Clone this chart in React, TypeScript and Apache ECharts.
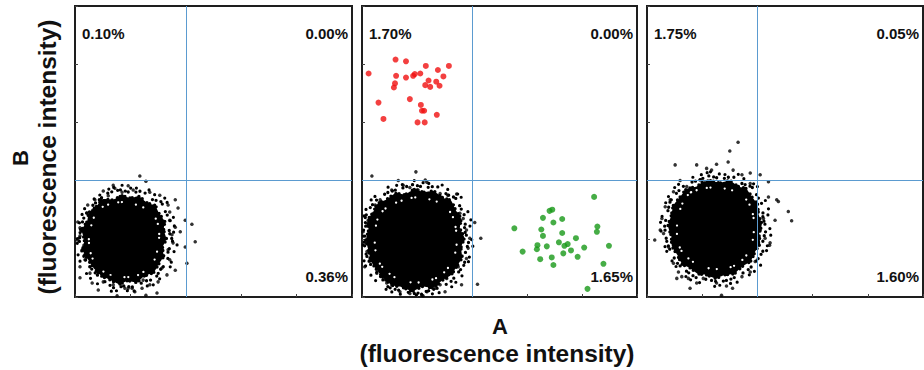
import React, { useEffect, useRef } from "react";
import * as echarts from "echarts";

// ---------- axis / gate values ----------
const AXIS_MIN = 0;
const AXIS_MAX = 5;
const AXIS_STEP = 1;
const GATE_X = 2;
const GATE_Y = 2;

// ---------- quadrant percentages (upper-left, upper-right, lower-right) ----------
const quadrant1 = ["0.10%", "0.00%", "0.36%"];
const quadrant2 = ["1.70%", "0.00%", "1.65%"];
const quadrant3 = ["1.75%", "0.05%", "1.60%"];

// ---------- panel 1: density contours (specks inside, dense core, mid rim, sparse halo) + edge events ----------
const inner1: number[][] = [
  [0.50, 1.55], [0.82, 1.63], [1.12, 1.58], [1.36, 1.47], [1.48, 1.30], [1.52, 1.08],
  [1.49, 0.82], [1.43, 0.63], [1.30, 0.48], [1.12, 0.37], [0.90, 0.34], [0.63, 0.38],
  [0.43, 0.50], [0.30, 0.70], [0.25, 0.98], [0.30, 1.25], [0.38, 1.44],
];
const core1: number[][] = [
  [0.85, 1.74], [1.00, 1.70], [1.15, 1.73], [1.30, 1.62], [1.45, 1.57], [1.52, 1.43],
  [1.62, 1.30], [1.60, 1.15], [1.65, 1.00], [1.58, 0.85], [1.60, 0.70], [1.50, 0.55],
  [1.42, 0.42], [1.25, 0.36], [1.12, 0.25], [0.95, 0.28], [0.80, 0.22], [0.62, 0.30],
  [0.48, 0.36], [0.35, 0.48], [0.25, 0.62], [0.14, 0.80], [0.17, 0.98], [0.12, 1.15],
  [0.22, 1.30], [0.25, 1.45], [0.38, 1.55], [0.50, 1.68], [0.68, 1.67],
];
const mid1: number[][] = [
  [0.82, 1.84], [1.02, 1.79], [1.22, 1.82], [1.38, 1.68], [1.55, 1.64], [1.63, 1.47],
  [1.72, 1.30], [1.70, 1.12], [1.76, 0.96], [1.68, 0.78], [1.67, 0.60], [1.54, 0.47],
  [1.44, 0.31], [1.25, 0.27], [1.08, 0.17], [0.88, 0.19], [0.72, 0.15], [0.53, 0.27],
  [0.40, 0.38], [0.24, 0.55], [0.15, 0.72], [0.08, 0.93], [0.10, 1.17], [0.16, 1.36],
  [0.26, 1.52], [0.40, 1.64], [0.58, 1.78],
];
const halo1: number[][] = [
  [0.85, 1.92], [1.05, 1.86], [1.25, 1.90], [1.45, 1.75], [1.62, 1.70], [1.72, 1.50],
  [1.80, 1.30], [1.78, 1.10], [1.85, 0.92], [1.76, 0.72], [1.72, 0.52], [1.58, 0.38],
  [1.45, 0.22], [1.25, 0.18], [1.05, 0.10], [0.85, 0.12], [0.65, 0.10], [0.45, 0.20],
  [0.30, 0.30], [0.15, 0.48], [0.06, 0.70], [0.04, 0.95], [0.06, 1.20], [0.12, 1.40],
  [0.22, 1.60], [0.40, 1.72], [0.60, 1.85],
];
const edge1: number[][] = [
  [1.17, 2.08], [1.28, 1.99], [0.69, 1.92], [0.72, 1.87], [0.96, 1.91], [0.51, 1.82],
  [1.05, 1.84], [1.35, 1.80], [1.53, 1.75], [1.81, 1.67], [1.86, 1.53], [0.85, 1.80],
  [0.60, 1.74], [0.36, 1.67], [0.23, 1.58], [1.68, 1.58], [1.71, 1.46], [0.05, 1.29],
  [0.09, 1.19], [0.04, 0.98], [0.13, 0.81], [0.18, 0.64], [0.09, 0.52], [0.27, 0.41],
  [0.32, 1.49], [0.22, 1.44], [0.09, 1.05], [0.16, 0.89], [1.71, 1.32], [1.81, 1.20],
  [1.99, 1.32], [2.11, 1.25], [2.17, 0.95], [1.90, 1.12], [1.77, 0.93], [1.99, 0.86],
  [2.02, 0.58], [1.71, 0.64], [1.81, 0.46], [1.68, 0.81], [1.75, 1.07], [0.31, 0.24],
  [0.51, 0.26], [0.69, 0.21], [0.90, 0.15], [0.96, 0.15], [1.03, 0.15], [1.21, 0.15],
  [0.76, 0.02], [1.28, 0.03], [1.48, 0.07], [1.50, 0.26], [1.66, 0.38], [0.63, 0.34],
  [1.23, 0.29], [0.09, 0.33], [0.42, 0.12], [1.08, 0.09], [1.35, 0.21], [1.57, 0.50],
];

// ---------- panel 2 ----------
const inner2: number[][] = [
  [0.62, 1.62], [0.96, 1.71], [1.30, 1.66], [1.52, 1.55], [1.65, 1.38], [1.71, 1.15],
  [1.72, 0.90], [1.66, 0.65], [1.53, 0.46], [1.36, 0.33], [1.04, 0.25], [0.72, 0.28],
  [0.50, 0.40], [0.32, 0.58], [0.24, 0.83], [0.24, 1.13], [0.30, 1.38], [0.44, 1.53],
];
const core2: number[][] = [
  [0.95, 1.85], [1.12, 1.80], [1.30, 1.82], [1.48, 1.70], [1.62, 1.66], [1.70, 1.50],
  [1.80, 1.35], [1.78, 1.18], [1.86, 1.02], [1.80, 0.85], [1.82, 0.68], [1.72, 0.52],
  [1.62, 0.38], [1.45, 0.28], [1.30, 0.16], [1.10, 0.18], [0.92, 0.10], [0.72, 0.17],
  [0.55, 0.20], [0.40, 0.32], [0.28, 0.45], [0.16, 0.62], [0.12, 0.80], [0.07, 0.98],
  [0.12, 1.15], [0.10, 1.32], [0.20, 1.45], [0.28, 1.60], [0.45, 1.68], [0.60, 1.78],
  [0.78, 1.76],
];
const mid2: number[][] = [
  [0.92, 1.93], [1.15, 1.88], [1.36, 1.90], [1.55, 1.76], [1.70, 1.70], [1.80, 1.52],
  [1.89, 1.34], [1.86, 1.15], [1.94, 0.96], [1.88, 0.76], [1.86, 0.56], [1.74, 0.41],
  [1.61, 0.26], [1.40, 0.16], [1.18, 0.10], [0.96, 0.06], [0.70, 0.11], [0.48, 0.17],
  [0.33, 0.36], [0.18, 0.52], [0.08, 0.72], [0.04, 0.94], [0.07, 1.16], [0.06, 1.37],
  [0.16, 1.55], [0.30, 1.70], [0.48, 1.80], [0.70, 1.86],
];
const halo2: number[][] = [
  [0.95, 2.00], [1.18, 1.95], [1.40, 1.96], [1.60, 1.82], [1.78, 1.75], [1.88, 1.55],
  [1.98, 1.35], [1.95, 1.12], [2.02, 0.90], [1.95, 0.68], [1.90, 0.45], [1.75, 0.30],
  [1.60, 0.15], [1.35, 0.06], [1.10, 0.05], [0.88, 0.03], [0.62, 0.06], [0.42, 0.14],
  [0.25, 0.28], [0.10, 0.45], [0.03, 0.65], [0.02, 0.90], [0.03, 1.15], [0.04, 1.40],
  [0.12, 1.62], [0.30, 1.78], [0.50, 1.90], [0.72, 1.93],
];
const edge2: number[][] = [
  [0.18, 2.08], [0.98, 2.15], [0.66, 2.00], [1.15, 2.01], [1.18, 1.97], [0.75, 1.92],
  [0.87, 1.88], [0.54, 1.84], [1.42, 1.78], [1.72, 1.77], [1.56, 1.75], [1.02, 1.84],
  [0.33, 1.67], [0.24, 1.58], [1.78, 1.44], [1.84, 1.35], [2.05, 1.28], [1.90, 1.15],
  [1.96, 1.01], [2.16, 1.01], [1.93, 0.84], [1.90, 0.66], [1.75, 0.52], [1.81, 0.21],
  [2.10, 0.22], [1.54, 0.32], [1.60, 0.46], [0.02, 1.12], [0.05, 0.95], [0.09, 0.78],
  [0.05, 0.52], [0.15, 0.64], [0.11, 1.32], [0.21, 1.44], [0.27, 0.41], [0.39, 0.32],
  [0.69, 0.09], [0.87, 0.06], [1.09, 0.03], [1.11, 0.02], [0.54, 0.21], [1.33, 0.15],
  [1.42, 0.21], [0.93, 0.15], [1.18, 0.09], [0.75, 0.18], [1.51, 0.09], [0.45, 0.24],
];
const redEvents: number[][] = [
  [0.12, 3.84], [0.61, 4.08], [0.80, 4.05], [1.16, 3.97], [1.38, 3.90], [1.58, 3.97],
  [0.62, 3.80], [0.80, 3.77], [0.93, 3.80], [0.96, 3.83], [1.06, 3.84], [1.48, 3.79],
  [0.60, 3.67], [0.58, 3.60], [1.21, 3.72], [1.15, 3.64], [1.24, 3.61], [1.35, 3.70],
  [1.41, 3.63], [0.30, 3.34], [0.87, 3.40], [1.07, 3.30], [1.09, 3.20], [1.13, 3.20],
  [1.36, 3.13], [0.39, 3.06], [1.01, 3.00], [1.14, 3.00],
];
const greenEvents: number[][] = [
  [4.22, 1.72], [3.41, 1.48], [3.46, 1.50], [3.29, 1.36], [3.48, 1.28], [3.64, 1.34],
  [2.77, 1.18], [3.26, 1.16], [3.29, 1.05], [3.64, 1.10], [4.28, 1.21], [4.27, 1.12],
  [3.89, 1.01], [3.19, 0.89], [3.18, 0.82], [3.36, 0.87], [3.58, 0.94], [3.68, 0.88],
  [3.74, 0.91], [3.80, 0.80], [3.66, 0.75], [4.04, 0.85], [4.49, 0.88], [2.92, 0.78],
  [3.24, 0.65], [3.45, 0.68], [3.92, 0.69], [3.48, 0.55], [4.39, 0.57], [4.10, 0.14],
];

// ---------- panel 3 ----------
const inner3: number[][] = [
  [0.80, 1.80], [1.14, 1.88], [1.48, 1.85], [1.72, 1.75], [1.86, 1.58], [1.93, 1.36],
  [1.93, 1.07], [1.87, 0.82], [1.73, 0.64], [1.54, 0.52], [1.29, 0.48], [1.00, 0.52],
  [0.78, 0.64], [0.62, 0.80], [0.55, 1.00], [0.55, 1.30], [0.62, 1.56], [0.70, 1.70],
];
const core3: number[][] = [
  [1.15, 2.00], [1.32, 1.96], [1.50, 2.00], [1.65, 1.90], [1.80, 1.86], [1.90, 1.72],
  [2.00, 1.60], [2.02, 1.42], [2.08, 1.25], [2.03, 1.08], [2.05, 0.92], [1.96, 0.78],
  [1.88, 0.62], [1.72, 0.52], [1.58, 0.40], [1.40, 0.38], [1.25, 0.32], [1.08, 0.38],
  [0.92, 0.40], [0.78, 0.50], [0.64, 0.56], [0.55, 0.72], [0.45, 0.88], [0.44, 1.05],
  [0.38, 1.22], [0.44, 1.40], [0.48, 1.58], [0.60, 1.72], [0.72, 1.86], [0.90, 1.90],
  [1.02, 1.98],
];
const mid3: number[][] = [
  [1.12, 2.08], [1.35, 2.03], [1.55, 2.07], [1.72, 1.95], [1.90, 1.89], [2.00, 1.73],
  [2.10, 1.56], [2.10, 1.36], [2.16, 1.17], [2.10, 0.98], [2.10, 0.79], [1.99, 0.63],
  [1.86, 0.49], [1.68, 0.38], [1.50, 0.30], [1.30, 0.26], [1.10, 0.30], [0.90, 0.33],
  [0.72, 0.44], [0.56, 0.57], [0.44, 0.76], [0.36, 0.95], [0.32, 1.22], [0.37, 1.44],
  [0.42, 1.64], [0.55, 1.80], [0.72, 1.95], [0.92, 2.00],
];
const halo3: number[][] = [
  [1.15, 2.15], [1.38, 2.10], [1.60, 2.14], [1.80, 2.00], [1.98, 1.92], [2.10, 1.75],
  [2.20, 1.52], [2.18, 1.30], [2.25, 1.10], [2.18, 0.88], [2.14, 0.66], [2.00, 0.48],
  [1.82, 0.36], [1.62, 0.25], [1.40, 0.22], [1.20, 0.18], [0.98, 0.24], [0.78, 0.30],
  [0.62, 0.42], [0.48, 0.58], [0.36, 0.78], [0.28, 1.00], [0.24, 1.25], [0.30, 1.48],
  [0.36, 1.68], [0.50, 1.88], [0.70, 2.02], [0.92, 2.08],
];
const edge3: number[][] = [
  [1.65, 2.66], [1.50, 2.51], [0.51, 2.27], [0.90, 2.27], [1.08, 2.21], [1.17, 2.18],
  [1.26, 2.28], [1.47, 2.32], [1.56, 2.18], [1.72, 2.10], [1.87, 2.13], [2.05, 2.10],
  [2.20, 1.98], [0.60, 2.00], [0.96, 2.01], [0.42, 1.67], [0.27, 1.35], [0.14, 0.98],
  [0.30, 1.09], [0.39, 0.86], [0.48, 0.58], [0.57, 0.43], [0.75, 0.32], [0.78, 0.15],
  [1.02, 0.32], [1.35, 0.03], [1.44, 0.19], [1.55, 0.15], [1.72, 0.35], [1.87, 0.43],
  [1.96, 0.61], [2.22, 0.89], [2.14, 1.01], [2.32, 1.32], [2.56, 1.47], [2.62, 1.31],
  [2.35, 1.67], [2.38, 1.64], [2.20, 1.72], [2.11, 1.35], [2.05, 1.15], [1.26, 0.24],
  [0.90, 0.24], [0.63, 0.35], [0.33, 1.55], [0.24, 1.15], [0.48, 1.81], [0.72, 1.90],
  [1.38, 1.92], [1.87, 1.95], [2.23, 0.93], [0.54, 0.32],
];

// ---------- layout ----------
const PANEL_TOP = 6;
const PANEL_HEIGHT = 291;
const panels = [
  { left: 75, width: 277, inner: inner1, core: core1, mid: mid1, halo: halo1, edge: edge1, labels: quadrant1 },
  { left: 362, width: 275, inner: inner2, core: core2, mid: mid2, halo: halo2, edge: edge2, labels: quadrant2 },
  { left: 647, width: 276, inner: inner3, core: core3, mid: mid3, halo: halo3, edge: edge3, labels: quadrant3 },
];

const FONT = "'Liberation Sans', Arial, Helvetica, sans-serif";
const GATE_COLOR = "#5b9bd0";

export default function App() {
  const ref = useRef<HTMLDivElement>(null);

  useEffect(() => {
    if (!ref.current) return;
    const chart = echarts.init(ref.current, undefined, { renderer: "svg" });

    const grid = panels.map((p) => ({
      left: p.left,
      top: PANEL_TOP,
      width: p.width,
      height: PANEL_HEIGHT,
      show: true,
      borderColor: "#1e1e1e",
      borderWidth: 2,
      backgroundColor: "#ffffff",
      containLabel: false,
    }));

    const axisCommon = {
      type: "value" as const,
      min: AXIS_MIN,
      max: AXIS_MAX,
      interval: AXIS_STEP,
      axisLine: { show: false },
      axisTick: { show: true, inside: true, length: 3, lineStyle: { color: "#444", width: 1 } },
      axisLabel: { show: false },
      splitLine: { show: false },
    };

    const xAxis = panels.map((_, i) => ({ ...axisCommon, gridIndex: i }));
    const yAxis = panels.map((_, i) => ({ ...axisCommon, gridIndex: i }));

    const dotted = (dash: number[], width: number, color = "#000") => ({
      fill: "none",
      stroke: color,
      lineWidth: width,
      lineCap: "round",
      lineDash: dash,
    });

    const series: any[] = [];
    panels.forEach((p, i) => {
      series.push({
        type: "scatter",
        xAxisIndex: i,
        yAxisIndex: i,
        data: [],
        z: 1,
        silent: true,
        markLine: {
          silent: true,
          symbol: "none",
          animation: false,
          label: { show: false },
          lineStyle: { color: GATE_COLOR, width: 1, type: "solid" },
          data: [{ xAxis: GATE_X }, { yAxis: GATE_Y }],
        },
      });
      const { inner, core, mid, halo } = p;
      series.push({
        type: "custom",
        xAxisIndex: i,
        yAxisIndex: i,
        data: [core[0]],
        z: 2,
        silent: true,
        renderItem: (_params: any, api: any) => {
          const toPx = (poly: number[][]) => poly.map((pt) => api.coord(pt));
          return {
            type: "group",
            children: [
              {
                type: "polygon",
                shape: { points: toPx(halo), smooth: 0.15 },
                style: dotted([0, 9, 0, 6, 0, 14, 0, 7, 0, 11, 0, 5, 0, 16], 3.2),
              },
              {
                type: "polygon",
                shape: { points: toPx(mid), smooth: 0.15 },
                style: dotted([0, 5, 0, 3, 0, 8, 0, 4, 0, 6, 0, 10, 0, 3.5], 3.3),
              },
              {
                type: "polygon",
                shape: { points: toPx(core), smooth: 0.15 },
                style: {
                  ...dotted([0, 3, 0, 5, 0, 2.5, 0, 7, 0, 4, 0, 6], 3.4),
                  fill: "#000",
                },
              },
              {
                type: "polygon",
                shape: { points: toPx(inner), smooth: 0.3 },
                style: dotted([0, 6, 0, 10, 0, 4, 0, 14, 0, 8, 0, 17], 2.3, "#fff"),
              },
            ],
          };
        },
      });
      series.push({
        type: "scatter",
        xAxisIndex: i,
        yAxisIndex: i,
        data: p.edge,
        symbol: "circle",
        symbolSize: 3.5,
        itemStyle: { color: "#000" },
        z: 3,
        silent: true,
      });
    });

    series.push({
      type: "scatter",
      xAxisIndex: 1,
      yAxisIndex: 1,
      data: redEvents,
      symbolSize: 6,
      itemStyle: { color: "#f01010" },
      z: 4,
      silent: true,
    });
    series.push({
      type: "scatter",
      xAxisIndex: 1,
      yAxisIndex: 1,
      data: greenEvents,
      symbolSize: 6,
      itemStyle: { color: "#189818" },
      z: 4,
      silent: true,
    });

    const pctStyle = { fontFamily: FONT, fontWeight: "bold", fontSize: 15, fill: "#111" };
    const graphic: any[] = [];
    panels.forEach((p) => {
      const right = p.left + p.width;
      graphic.push({
        type: "text",
        x: p.left + 7,
        y: 33,
        style: { ...pctStyle, text: p.labels[0], textAlign: "left", textVerticalAlign: "middle" },
      });
      graphic.push({
        type: "text",
        x: right - 4,
        y: 33,
        style: { ...pctStyle, text: p.labels[1], textAlign: "right", textVerticalAlign: "middle" },
      });
      graphic.push({
        type: "text",
        x: right - 4,
        y: 276,
        style: { ...pctStyle, text: p.labels[2], textAlign: "right", textVerticalAlign: "middle" },
      });
    });

    const titleStyle = { fontFamily: FONT, fontWeight: "bold", fill: "#111" };
    graphic.push(
      { type: "text", x: 500, y: 326, style: { ...titleStyle, fontSize: 22, text: "A", textAlign: "center", textVerticalAlign: "middle" } },
      { type: "text", x: 497, y: 353, style: { ...titleStyle, fontSize: 24.5, text: "(fluorescence intensity)", textAlign: "center", textVerticalAlign: "middle" } },
      { type: "text", x: 20, y: 158, rotation: Math.PI / 2, style: { ...titleStyle, fontSize: 22, text: "B", textAlign: "center", textVerticalAlign: "middle" } },
      { type: "text", x: 47, y: 157, rotation: Math.PI / 2, style: { ...titleStyle, fontSize: 24.5, text: "(fluorescence intensity)", textAlign: "center", textVerticalAlign: "middle" } }
    );

    chart.setOption({
      animation: false,
      backgroundColor: "#ffffff",
      grid,
      xAxis,
      yAxis,
      series,
      graphic,
    });

    return () => chart.dispose();
  }, []);

  return (
    <div
      ref={ref}
      style={{ position: "absolute", left: 0, top: 0, width: 924, height: 370 }}
    />
  );
}
